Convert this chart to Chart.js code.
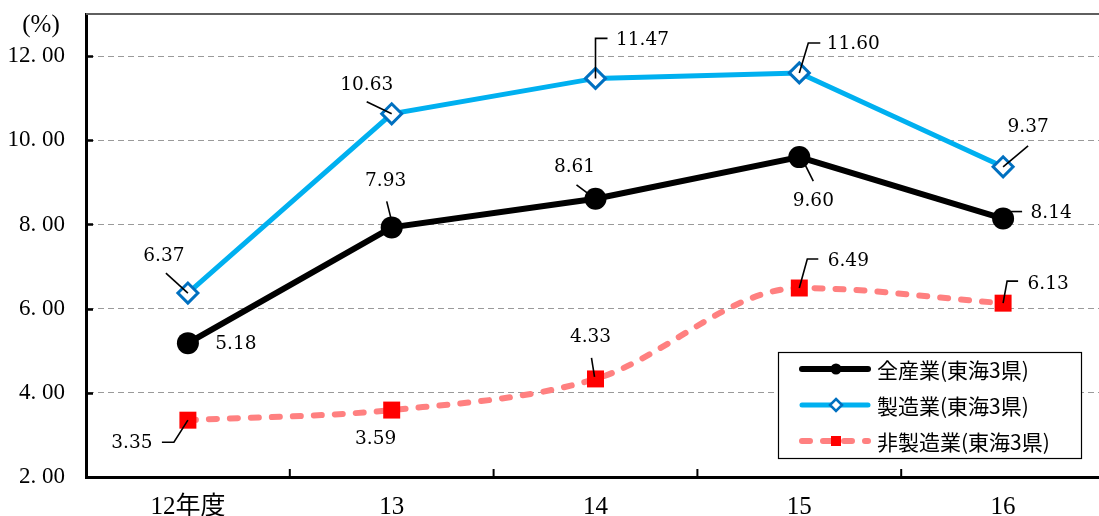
<!DOCTYPE html>
<html>
<head>
<meta charset="utf-8">
<script src="https://cdn.jsdelivr.net/npm/chart.js@4"></script>
<style>
  html, body { margin: 0; padding: 0; background: #fff; overflow: hidden; }
  #wrap { position: relative; width: 1118px; height: 516px; }
</style>
</head>
<body>
<div id="wrap"><canvas id="canvas"></canvas></div>
<script>
var categories = ['12年度', '13', '14', '15', '16'];
var allIndustry = [5.18, 7.93, 8.61, 9.60, 8.14];
var manufacturing = [6.37, 10.63, 11.47, 11.60, 9.37];
var nonManufacturing = [3.35, 3.59, 4.33, 6.49, 6.13];
var seriesNames = ['全産業(東海3県)', '製造業(東海3県)', '非製造業(東海3県)'];
var yMin = 2, yMax = 13, yStep = 2;

// where each value label sits relative to its point, plus the leader line
var labelSpots = [
    [
        { dx: 48, dy: 1 },
        { dx: -6, dy: -46, lead: [[-5, -26], [-1, -10]] },
        { dx: -21, dy: -32, lead: [[-19, -14], [-7, -5]] },
        { dx: 14, dy: 44, lead: [[6, 8], [14, 24]] },
        { dx: 48, dy: -5, lead: [[0, -7], [19, -7]] }
    ],
    [
        { dx: -24, dy: -37, lead: [[-22, -20], [0, 0]] },
        { dx: -25, dy: -29, lead: [[-25, -12], [0, 0]] },
        { dx: 47, dy: -38, lead: [[0, 0], [0, -40], [12, -40]] },
        { dx: 54, dy: -29, lead: [[0, 0], [9, -30], [21, -30]] },
        { dx: 25, dy: -40, lead: [[25, -21], [0, 0]] }
    ],
    [
        { dx: -56, dy: 23, lead: [[0, 0], [-14, 22], [-26, 22]] },
        { dx: -16, dy: 29 },
        { dx: -5, dy: -42, lead: [[-4, -21], [-1, -2]] },
        { dx: 49, dy: -27, lead: [[0, 0], [8, -29], [19, -29]] },
        { dx: 45, dy: -19, lead: [[0, 0], [4, -22], [15, -22]] }
    ]
];

var PINK_DASH = [8, 13];

function drawMarker(ctx, style, x, y, r) {
    ctx.save();
    ctx.setLineDash([]);
    if (style == 'circle') {
        ctx.fillStyle = '#000';
        ctx.beginPath();
        ctx.arc(x, y, r, 0, Math.PI * 2);
        ctx.fill();
    } else if (style == 'diamond') {
        ctx.fillStyle = '#fff';
        ctx.strokeStyle = '#0070C0';
        ctx.lineWidth = 2.5;
        ctx.beginPath();
        ctx.moveTo(x, y - r);
        ctx.lineTo(x + r, y);
        ctx.lineTo(x, y + r);
        ctx.lineTo(x - r, y);
        ctx.closePath();
        ctx.fill();
        ctx.stroke();
    } else {
        ctx.fillStyle = '#FF0000';
        ctx.fillRect(x - r, y - r, r * 2, r * 2);
    }
    ctx.restore();
}

var framePlugin = {
    id: 'frame',
    beforeDatasetsDraw: function (chart) {
        var ctx = chart.ctx, a = chart.chartArea;
        var y = chart.scales.y, x = chart.scales.x;
        ctx.save();
        // top edge of the plot
        ctx.strokeStyle = '#5f5f5f';
        ctx.lineWidth = 2;
        ctx.beginPath();
        ctx.moveTo(a.left, a.top);
        ctx.lineTo(a.right, a.top);
        ctx.stroke();
        // inner tick marks
        ctx.strokeStyle = '#000';
        ctx.lineWidth = 2.5;
        y.ticks.forEach(function (t) {
            var py = Math.round(y.getPixelForValue(t.value)) + 0.5;
            ctx.beginPath();
            ctx.moveTo(a.left, py);
            ctx.lineTo(a.left + 7, py);
            ctx.stroke();
        });
        ctx.lineWidth = 2;
        for (var i = 1; i < categories.length; i++) {
            var px = (x.getPixelForValue(i - 1) + x.getPixelForValue(i)) / 2;
            ctx.beginPath();
            ctx.moveTo(px, a.bottom);
            ctx.lineTo(px, a.bottom - 8);
            ctx.stroke();
        }
        // unit
        ctx.fillStyle = '#000';
        ctx.font = '25px "Liberation Serif", "Noto Sans CJK JP"';
        ctx.textAlign = 'center';
        ctx.textBaseline = 'middle';
        ctx.fillText('(%)', 41, 25);
        ctx.restore();
    }
};

var labelPlugin = {
    id: 'valueLabels',
    afterDatasetsDraw: function (chart) {
        var ctx = chart.ctx;
        ctx.save();
        chart.data.datasets.forEach(function (ds, i) {
            var meta = chart.getDatasetMeta(i);
            meta.data.forEach(function (pt, j) {
                var spot = labelSpots[i][j];
                if (spot.lead) {
                    ctx.strokeStyle = '#000';
                    ctx.lineWidth = 1.6;
                    ctx.setLineDash([]);
                    ctx.beginPath();
                    spot.lead.forEach(function (p, k) {
                        if (k == 0) ctx.moveTo(pt.x + p[0], pt.y + p[1]);
                        else ctx.lineTo(pt.x + p[0], pt.y + p[1]);
                    });
                    ctx.stroke();
                }
                ctx.fillStyle = '#000';
                ctx.font = '18.5px "DejaVu Serif"';
                ctx.textAlign = 'center';
                ctx.textBaseline = 'middle';
                ctx.fillText(ds.data[j].toFixed(2), pt.x + spot.dx, pt.y + spot.dy);
            });
        });
        ctx.restore();
    }
};

var legendPlugin = {
    id: 'boxLegend',
    afterDraw: function (chart) {
        var ctx = chart.ctx;
        var bx = 778, by = 352, bw = 303, bh = 106;
        var rows = [369, 405, 441];
        var styles = [
            { color: '#000', width: 6, dash: [], marker: 'circle', r: 5.5 },
            { color: '#00B0F0', width: 5, dash: [], marker: 'diamond', r: 6 },
            { color: '#FF8080', width: 6, dash: PINK_DASH, marker: 'square', r: 5 }
        ];
        ctx.save();
        ctx.fillStyle = '#fff';
        ctx.fillRect(bx, by, bw, bh);
        ctx.strokeStyle = '#000';
        ctx.lineWidth = 1.2;
        ctx.strokeRect(bx + 0.5, by + 0.5, bw, bh);
        seriesNames.forEach(function (name, i) {
            var s = styles[i], y = rows[i];
            ctx.strokeStyle = s.color;
            ctx.lineWidth = s.width;
            ctx.lineCap = 'round';
            ctx.setLineDash(s.dash);
            ctx.beginPath();
            ctx.moveTo(802, y);
            ctx.lineTo(868, y);
            ctx.stroke();
            drawMarker(ctx, s.marker, 836, y, s.r);
            ctx.fillStyle = '#000';
            ctx.font = '21px "Noto Sans CJK JP"';
            ctx.textAlign = 'left';
            ctx.textBaseline = 'middle';
            ctx.fillText(name, 877, y + 1);
        });
        ctx.restore();
    }
};

var ctx = document.getElementById('canvas').getContext('2d');
var myChart = new Chart(ctx, {
    type: 'line',
    data: {
        labels: categories,
        datasets: [
            {
                label: seriesNames[0],
                data: allIndustry,
                borderColor: '#000',
                borderWidth: 6,
                pointStyle: 'circle',
                pointRadius: 11,
                pointBackgroundColor: '#000',
                pointBorderColor: '#000',
                pointBorderWidth: 0,
                tension: 0
            },
            {
                label: seriesNames[1],
                data: manufacturing,
                borderColor: '#00B0F0',
                borderWidth: 5,
                pointStyle: 'rectRot',
                pointRadius: 10,
                pointBackgroundColor: '#fff',
                pointBorderColor: '#0070C0',
                pointBorderWidth: 3,
                tension: 0
            },
            {
                label: seriesNames[2],
                data: nonManufacturing,
                borderColor: '#FF8080',
                borderWidth: 6,
                borderDash: PINK_DASH,
                borderCapStyle: 'round',
                pointStyle: 'rect',
                pointRadius: 12,
                pointBackgroundColor: '#FF0000',
                pointBorderColor: '#FF0000',
                pointBorderWidth: 0,
                cubicInterpolationMode: 'monotone'
            }
        ]
    },
    options: {
        responsive: true,
        maintainAspectRatio: false,
        animation: false,
        layout: { padding: { top: 14, left: 0, right: 5, bottom: 0 } },
        plugins: {
            legend: { display: false },
            tooltip: { enabled: false }
        },
        scales: {
            x: {
                offset: true,
                grid: { display: false, drawTicks: false },
                border: { display: true, color: '#000', width: 3 },
                ticks: {
                    color: '#000',
                    padding: 15,
                    font: { family: '"Liberation Serif", "Noto Sans CJK JP"', size: 25 }
                },
                afterFit: function (scale) {
                    scale.height = 39;
                    scale.paddingLeft = 0;
                    scale.paddingRight = 0;
                }
            },
            y: {
                min: yMin,
                max: yMax,
                grid: { color: '#9a9a9a', lineWidth: 1, drawTicks: false },
                border: { display: true, color: '#000', width: 3, dash: [6, 4] },
                ticks: {
                    stepSize: yStep,
                    color: '#000',
                    padding: 21,
                    font: { family: '"Liberation Serif"', size: 23 },
                    callback: function (v) { return v.toFixed(2).replace('.', '. '); }
                },
                afterBuildTicks: function (scale) {
                    scale.ticks = scale.ticks.filter(function (t) { return t.value <= 12; });
                },
                afterFit: function (scale) {
                    scale.width = 86;
                    scale.paddingTop = 0;
                    scale.paddingBottom = 0;
                }
            }
        }
    },
    plugins: [framePlugin, labelPlugin, legendPlugin]
});
</script>
</body>
</html>
